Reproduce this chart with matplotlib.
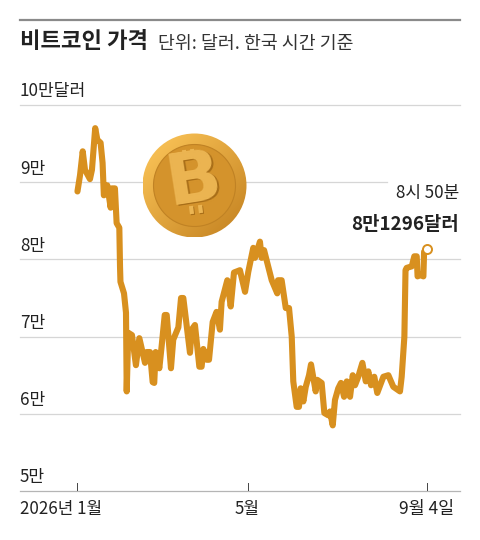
import numpy as np
import matplotlib
matplotlib.use("Agg")
import matplotlib.pyplot as plt
from matplotlib.patches import Circle

plt.rcParams['font.family'] = ['Noto Sans CJK KR', 'DejaVu Sans']

# days since Jan 1, price in units of 10,000 dollars
days = [0, 1.8, 3.7, 5.3, 8.8, 10.2, 12.5, 14, 16.3, 17.7, 18.6, 21, 23.4, 24.1, 26.4, 27.6,
        29.5, 30, 30.3, 32.8, 34.2, 34.7, 35.8, 38.4, 41.2, 43.6, 47.6, 48.8, 51.1, 53, 54.1,
        55.1, 57.7, 59.4, 61.5, 62.9, 65.9, 67.5, 71.1, 73, 74.6, 79.3, 80.5, 82.8, 85.9, 87.5,
        88.7, 91.1, 92.7, 95.3, 98, 100.4, 101.6, 105.6, 108, 110.3, 114.5, 118.1, 120.4, 123.9,
        125.1, 128.6, 129.8, 131.5, 136.9, 140.8, 141.3, 143.9, 146.8, 149.1, 151, 152.1, 154.5,
        156.1, 157.3, 159.2, 160.9, 163.2, 164.6, 167.9, 169, 172.1, 174, 176.8, 178, 179.9,
        181.5, 183.8, 185.7, 187.9, 189.8, 192.1, 194, 195.6, 197.9, 200.8, 203.2, 205, 206.9,
        209.2, 211.3, 215.6, 219.1, 222.6, 227.3, 228.5, 230.4, 231.2, 232, 235.6, 237.4, 239.1,
        239.7, 241.4, 243.8, 244.3, 246]
prices = [8.88, 9.09, 9.40, 9.16, 9.04, 9.16, 9.70, 9.55, 9.51, 9.25, 8.83, 8.96, 8.67, 8.92, 8.92, 8.47,
          8.41, 7.90, 7.71, 7.56, 7.31, 6.29, 7.05, 7.02, 6.63, 6.98, 6.66, 6.80, 6.80, 6.41, 6.40,
          6.80, 6.59, 6.89, 7.28, 7.28, 6.59, 6.96, 7.12, 7.50, 7.50, 6.79, 7.09, 7.15, 6.61, 6.61,
          6.84, 6.70, 6.70, 7.19, 7.32, 7.09, 7.45, 7.73, 7.39, 7.83, 7.86, 7.58, 7.84, 8.15,
          8.02, 8.23, 8.02, 8.12, 7.73, 7.56, 7.73, 7.73, 7.37, 7.37, 7.00, 6.42, 6.09,
          6.09, 6.33, 6.16, 6.35, 6.50, 6.64, 6.29, 6.44, 6.40, 6.01, 5.98, 6.03, 5.85,
          6.18, 6.33, 6.40, 6.22, 6.42, 6.22, 6.50, 6.37, 6.48, 6.66, 6.42, 6.55, 6.37,
          6.48, 6.27, 6.48, 6.50, 6.35, 6.29, 6.48, 7.00, 7.86, 7.89, 7.91, 8.04, 8.04,
          7.78, 7.80, 7.78, 8.10, 8.1296]

y_ticks = [5, 6, 7, 8, 9, 10]
y_labels = ['5만', '6만', '7만', '8만', '9만', '10만달러']
x_ticks = [0, 120, 246]
x_labels = ['2026년 1월', '5월', '9월 4일']

LINE = '#d8901f'
INK = '#222222'

fig = plt.figure(figsize=(4.8, 5.4), dpi=100, facecolor='white')

# px helpers, the layout was measured on a 480x540 canvas
ax = fig.add_axes([20 / 480, 1 - 491 / 540, 440 / 480, 386 / 540])
ax.set_xlim(-40.5, 269.6)
ax.set_ylim(5, 10)
ax.axis('off')

for v in y_ticks[1:]:
    end = 218 if v == 9 else 269.6
    ax.plot([-40.5, end], [v, v], color='#d6d6d6', lw=0.9, zorder=1, clip_on=False)
ax.plot([-40.5, 269.6], [5, 5], color='#b5b5b5', lw=0.9, zorder=1, clip_on=False)

for t in x_ticks:
    ax.plot([t, t], [5, 5.1], color='#444444', lw=0.7, zorder=2)

ax.plot(days, prices, color=LINE, lw=4.4, solid_joinstyle='round', solid_capstyle='round', zorder=3)
ax.plot(days[-1], prices[-1], 'o', ms=6.5, mfc='white', mec=LINE, mew=1.4, zorder=4, clip_on=False)

for v, lab in zip(y_ticks, y_labels):
    ax.text(-40.5, v + 0.06, lab, fontsize=12.3, color=INK, ha='left', va='bottom')

# overlay in pixel coordinates for the coin and header
ov = fig.add_axes([0, 0, 1, 1])
ov.set_xlim(0, 480)
ov.set_ylim(540, 0)
ov.axis('off')
ov.patch.set_alpha(0)

ov.plot([20, 460], [20, 20], color='#8a8a8a', lw=1.6)
ov.text(20, 41, '비트코인 가격', fontsize=16, fontweight='bold', color=INK, ha='left', va='center')
ov.text(158, 44, '단위: 달러. 한국 시간 기준', fontsize=13.2, color='#333333', ha='left', va='center')

ov.text(459, 193, '8시 50분', fontsize=12.2, color=INK, ha='right', va='center')
ov.text(459, 225, '8만1296달러', fontsize=13.6, fontweight='bold', color=INK, ha='right', va='center')

ov.text(20, 509, x_labels[0], fontsize=12.2, color=INK, ha='left', va='center')
ov.text(247, 509, x_labels[1], fontsize=12.2, color=INK, ha='center', va='center')
ov.text(427, 509, x_labels[2], fontsize=12.5, color=INK, ha='center', va='center')

# coin
cx, cy, r = 194.5, 185.5, 52
gx, gy = np.meshgrid(np.linspace(-1, 1, 220), np.linspace(-1, 1, 220))
shade = np.clip(0.6 - 0.3 * (gx + gy), 0, 1)
dark = np.array([0.76, 0.50, 0.12])
light = np.array([0.96, 0.74, 0.32])
img = dark + (light - dark) * shade[..., None]
im = ov.imshow(img, extent=[cx - r, cx + r, cy + r, cy - r], zorder=5, interpolation='bilinear')
im.set_clip_path(Circle((cx, cy), r, transform=ov.transData))
ov.set_xlim(0, 480)
ov.set_ylim(540, 0)
ov.set_aspect('auto')

ov.add_patch(Circle((cx, cy), 41, fc='#d4932c', ec='#c08224', lw=0.8, zorder=6))

for (x0, y0, x1, y1) in [(185, 159, 184, 150), (193, 158, 192, 149),
                         (191, 206, 192, 214), (200, 205, 201, 213)]:
    ov.plot([x0 + 1, x1 + 1], [y0 + 1, y1 + 1], color='#a86e18', lw=3, zorder=7, solid_capstyle='butt')
    ov.plot([x0, x1], [y0, y1], color='#ecb552', lw=3, zorder=7, solid_capstyle='butt')

ov.text(196, 182.5, 'B', fontsize=52, fontweight='bold', family='DejaVu Sans', color='#a86e18',
        rotation=9, ha='center', va='center', zorder=7)
ov.text(194, 181, 'B', fontsize=52, fontweight='bold', family='DejaVu Sans', color='#ecb552',
        rotation=9, ha='center', va='center', zorder=8)

fig.savefig('out.png', dpi=100, facecolor='white')
